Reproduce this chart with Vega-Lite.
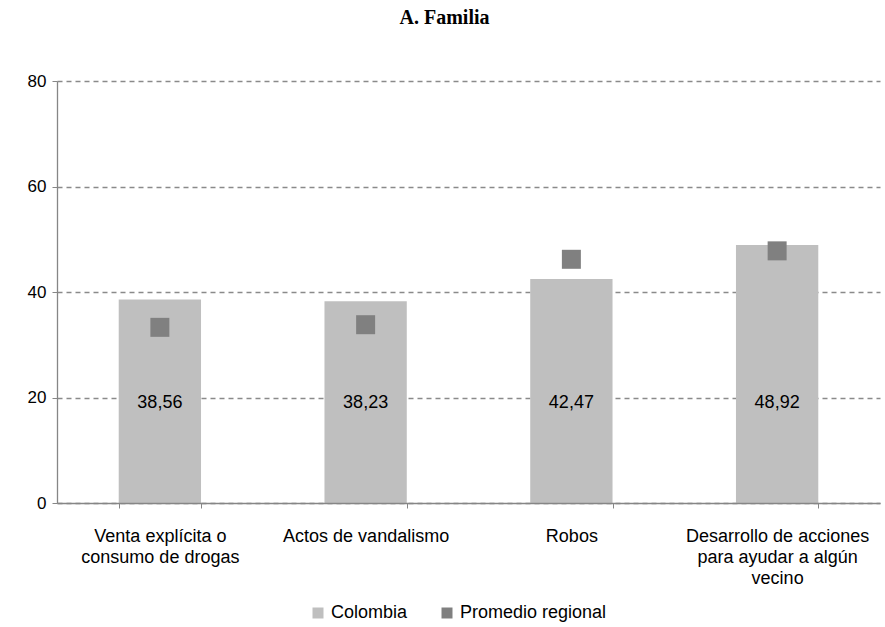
{
  "$schema": "https://vega.github.io/schema/vega-lite/v6.json",
  "autosize": {"type": "none"},
  "width": 823,
  "height": 422,
  "padding": {"left": 57, "top": 81, "right": 5, "bottom": 124},
  "title": {
    "text": "A. Familia",
    "font": "Liberation Serif",
    "fontSize": 20,
    "fontWeight": "bold",
    "color": "#000000",
    "anchor": "middle",
    "offset": 44,
    "dx": -24
  },
  "config": {
    "view": {"stroke": null},
    "locale": {"number": {"decimal": ",", "thousands": ".", "grouping": [3], "currency": ["", ""]}},
    "font": "Liberation Sans"
  },
  "data": {
    "values": [
      {"categoria": "Venta explícita o consumo de drogas", "colombia": 38.56, "promedio": 33.3},
      {"categoria": "Actos de vandalismo", "colombia": 38.23, "promedio": 33.8},
      {"categoria": "Robos", "colombia": 42.47, "promedio": 46.2},
      {"categoria": "Desarrollo de acciones para ayudar a algún vecino", "colombia": 48.92, "promedio": 47.8}
    ]
  },
  "encoding": {
    "x": {
      "field": "categoria",
      "type": "nominal",
      "sort": null,
      "scale": {"paddingInner": 0.6, "paddingOuter": 0.3},
      "axis": {
        "title": null,
        "labelAngle": 0,
        "labelFont": "Liberation Sans",
        "labelFontSize": 18,
        "labelColor": "#000000",
        "labelPadding": 19,
        "labelLineHeight": 21,
        "labelLimit": 300,
        "labelBaseline": "top",
        "domainColor": "#868686",
        "domainWidth": 1.3,
        "tickColor": "#868686",
        "tickSize": 5,
        "tickBand": "extent",
        "zindex": 1,
        "labelExpr": "datum.value == 'Venta explícita o consumo de drogas' ? ['Venta explícita o', 'consumo de drogas'] : datum.value == 'Desarrollo de acciones para ayudar a algún vecino' ? ['Desarrollo de acciones', 'para ayudar a algún', 'vecino'] : datum.value"
      }
    }
  },
  "layer": [
    {
      "mark": {"type": "bar"},
      "encoding": {
        "y": {
          "field": "colombia",
          "type": "quantitative",
          "scale": {"domain": [0, 80]},
          "axis": {
            "title": null,
            "values": [0, 20, 40, 60, 80],
            "labelFont": "Liberation Sans",
            "labelFontSize": 17,
            "labelColor": "#000000",
            "labelPadding": 6,
            "tickSize": 5,
            "tickColor": "#868686",
            "domainColor": "#868686",
            "domainWidth": 1.3,
            "grid": true,
            "gridColor": "#8a8a8a",
            "gridDash": [5, 4],
            "gridWidth": 1.5
          }
        },
        "color": {
          "datum": "Colombia",
          "type": "nominal",
          "scale": {"domain": ["Colombia", "Promedio regional"], "range": ["#bfbfbf", "#808080"]},
          "legend": {
            "title": null,
            "orient": "none",
            "direction": "horizontal",
            "legendX": 252,
            "legendY": 523,
            "symbolType": "square",
            "symbolSize": 121,
            "symbolStrokeWidth": 0,
            "labelFont": "Liberation Sans",
            "labelFontSize": 18,
            "labelColor": "#000000",
            "labelOffset": 4,
            "columnPadding": 30
          }
        }
      }
    },
    {
      "mark": {"type": "point", "shape": "square", "filled": true, "size": 361, "opacity": 1},
      "encoding": {
        "y": {"field": "promedio", "type": "quantitative"},
        "color": {"datum": "Promedio regional", "type": "nominal"}
      }
    },
    {
      "mark": {"type": "text", "font": "Liberation Sans", "fontSize": 18, "color": "#000000", "baseline": "middle"},
      "encoding": {
        "y": {"datum": 19},
        "text": {"field": "colombia", "type": "quantitative", "format": ".2f"}
      }
    }
  ]
}
